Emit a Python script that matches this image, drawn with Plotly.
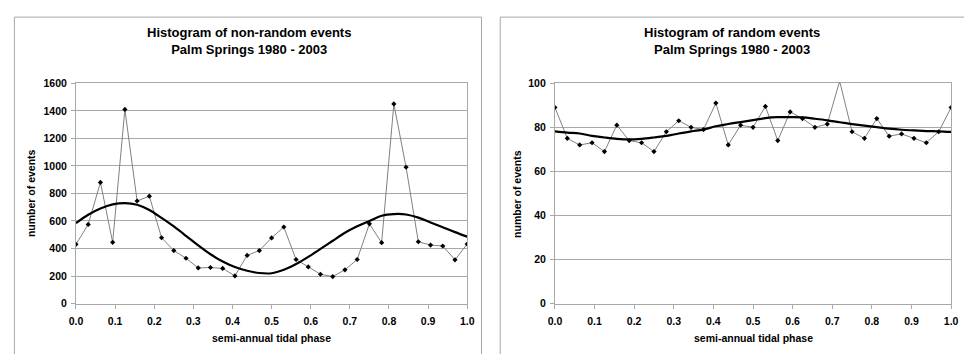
import plotly.graph_objects as go

W, H = 964, 354

# phase positions (k/32)
phase = [k / 32 for k in range(33)]

nonrandom_counts = [430, 575, 880, 445, 1410, 745, 780, 478, 385, 329, 259, 262, 255, 201,
                    350, 385, 477, 556, 320, 266, 213, 196, 245, 320, 579, 442, 1450, 990,
                    449, 425, 418, 318, 432]
nonrandom_fit = [584, 645, 690, 720, 730, 718, 680, 622, 560, 492, 422, 358, 305, 265,
                 238, 222, 220, 245, 287, 339, 397, 456, 514, 561, 600, 638, 650, 647,
                 624, 589, 554, 519, 486]

random_counts = [89, 75, 72, 73, 69, 81, 74, 73, 69, 78, 83, 80, 79, 91, 72, 81, 80, 89.5,
                 74, 87, 84, 80, 81.5, 101, 78, 75, 84, 76, 77, 75, 73, 78, 89]
random_fit = [78.2, 77.6, 77.2, 76.1, 75.4, 74.8, 74.5, 74.8, 75.4, 76.1, 77.2, 78.2, 79.0,
              80.5, 81.5, 82.4, 83.3, 84.2, 84.6, 84.6, 84.5, 83.9, 83.2, 82.3, 81.5, 80.8,
              80.1, 79.4, 78.9, 78.6, 78.3, 78.2, 77.9]

titles = ["Histogram of non-random events<br>Palm Springs 1980 - 2003",
          "Histogram of random events<br>Palm Springs 1980 - 2003"]
x_title = "semi-annual tidal phase"
y_title = "number of events"

FONT = "Liberation Sans, Arial, sans-serif"
GRID = "#a8a8a8"

def px_x(p):
    return p / W

def px_y(p):
    return 1 - p / H

fig = go.Figure()

for counts, fit, xa, ya in [(nonrandom_counts, nonrandom_fit, "x", "y"),
                            (random_counts, random_fit, "x2", "y2")]:
    fig.add_trace(go.Scatter(x=phase, y=counts, mode="lines+markers", xaxis=xa, yaxis=ya,
                             line=dict(color="#808080", width=1),
                             marker=dict(color="black", size=4, symbol="diamond"),
                             showlegend=False, hoverinfo="skip"))
    fig.add_trace(go.Scatter(x=phase, y=fit, mode="lines", xaxis=xa, yaxis=ya,
                             line=dict(color="black", width=2.2, shape="spline"),
                             showlegend=False, hoverinfo="skip"))

tickfont = dict(family=FONT, size=10.5, color="black", weight="bold")

def xaxis(domain):
    return dict(domain=domain, range=[0, 1], dtick=0.1, tick0=0, tickformat=".1f",
                showgrid=False, zeroline=False, showline=True, linecolor=GRID, linewidth=1,
                mirror=True, ticks="outside", ticklen=4, tickcolor=GRID, tickfont=tickfont,
                ticklabelstandoff=4)

def yaxis(domain, rng, dt, anchor):
    return dict(domain=domain, range=rng, dtick=dt, showgrid=True, gridcolor=GRID, gridwidth=1,
                zeroline=False, showline=True, linecolor=GRID, linewidth=1, mirror=True,
                ticks="outside", ticklen=4, tickcolor=GRID, tickfont=tickfont, anchor=anchor,
                ticklabelstandoff=2)

ydom = [px_y(308), px_y(80)]
fig.update_layout(
    width=W, height=H, margin=dict(l=0, r=0, t=0, b=0),
    paper_bgcolor="white", plot_bgcolor="white",
    xaxis=dict(xaxis([px_x(70), px_x(467)]), anchor="y"),
    yaxis=yaxis(ydom, [0, 1600], 200, "x"),
    xaxis2=dict(xaxis([px_x(556), px_x(958)]), anchor="y2"),
    yaxis2=yaxis(ydom, [0, 100], 20, "x2"),
)

shapes = [
    dict(type="rect", xref="paper", yref="paper", x0=px_x(7.5), x1=px_x(481.5),
         y0=px_y(380), y1=px_y(11.5), line=dict(color=GRID, width=1)),
    dict(type="rect", xref="paper", yref="paper", x0=px_x(500.5), x1=px_x(1000),
         y0=px_y(380), y1=px_y(11.5), line=dict(color=GRID, width=1)),
]
fig.update_layout(shapes=shapes)

ann = []
for title, cx in [(titles[0], 246), (titles[1], 736)]:
    ann.append(dict(text="<b>" + title + "</b>", xref="paper", yref="paper", x=px_x(cx), y=px_y(36),
                    xanchor="center", yanchor="middle", showarrow=False,
                    font=dict(family=FONT, size=13, color="black")))
for cx in [268.5, 757]:
    ann.append(dict(text="<b>" + x_title + "</b>", xref="paper", yref="paper", x=px_x(cx), y=px_y(344),
                    xanchor="center", yanchor="middle", showarrow=False,
                    font=dict(family=FONT, size=10.5, color="black")))
for cx in [25, 518]:
    ann.append(dict(text="<b>" + y_title + "</b>", xref="paper", yref="paper", x=px_x(cx), y=px_y(194),
                    xanchor="center", yanchor="middle", showarrow=False, textangle=-90,
                    font=dict(family=FONT, size=10.5, color="black")))
fig.update_layout(annotations=ann)

fig.write_html("out.html")
